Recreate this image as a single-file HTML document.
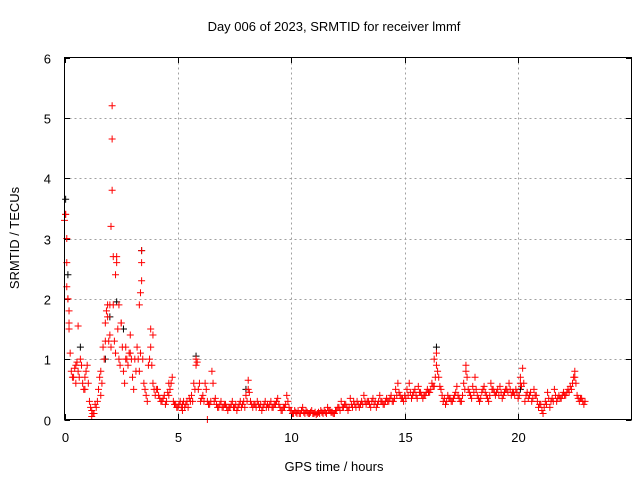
<!DOCTYPE html>
<html><head><meta charset="utf-8"><style>
body{margin:0;background:#fff}
svg{display:block;font-family:"Liberation Sans",sans-serif;font-size:13px}
</style></head><body>
<svg id="chart" width="640" height="480">
<rect width="640" height="480" fill="#fff"/>
<text x="334" y="31" text-anchor="middle">Day 006 of 2023, SRMTID for receiver lmmf</text>
<text x="334" y="471" text-anchor="middle">GPS time / hours</text>
<text transform="translate(19,238) rotate(-90)" text-anchor="middle">SRMTID / TECUs</text>
<g id="grid"></g><g id="ticks"></g><g id="pts"></g>
<rect x="64.5" y="57.5" width="567" height="362" fill="none" stroke="#000"/>
</svg>
<script>
const xTicks=[0,5,10,15,20];
const yTicks=[0,1,2,3,4,5,6];
const vals=[
3.3,2.2,1.6,0.8,0.7,0.9,0.8,1.0,0.6,0.7,
0.9,0.3,0.15,0.1,0.2,0.5,0.8,1.2,1.6,1.9,
1.4,5.2,1.3,2.6,1.0,1.6,0.8,1.2,0.9,1.4,
0.7,1.0,1.2,0.8,2.8,0.6,0.4,0.9,1.5,0.6,
0.4,0.5,0.35,0.3,0.4,0.3,0.4,0.6,0.3,0.25,
0.2,0.3,0.25,0.2,0.3,0.35,0.4,0.6,1.0,0.5,
0.3,0.4,0.6,0.3,0.25,0.8,0.3,0.25,0.2,0.3,
0.2,0.25,0.15,0.2,0.3,0.2,0.15,0.25,0.2,0.3,
0.4,0.65,0.3,0.2,0.25,0.3,0.2,0.15,0.25,0.2,
0.2,0.3,0.2,0.25,0.35,0.2,0.15,0.2,0.4,0.2,
0.15,0.1,0.12,0.15,0.1,0.2,0.1,0.12,0.1,0.15,
0.1,0.08,0.12,0.15,0.1,0.12,0.2,0.15,0.12,0.1,
0.15,0.2,0.3,0.2,0.25,0.15,0.35,0.2,0.25,0.3,
0.2,0.3,0.4,0.25,0.3,0.2,0.35,0.3,0.25,0.4,
0.3,0.25,0.35,0.3,0.4,0.3,0.5,0.6,0.4,0.35,
0.4,0.5,0.6,0.35,0.45,0.4,0.55,0.45,0.35,0.4,
0.5,0.45,0.6,0.55,1.1,0.7,0.5,0.3,0.25,0.4,
0.35,0.3,0.4,0.55,0.35,0.3,0.6,0.9,0.5,0.4,
0.55,0.7,0.4,0.3,0.45,0.55,0.4,0.3,0.6,0.5,
0.4,0.5,0.55,0.35,0.45,0.5,0.6,0.4,0.45,0.5,
0.35,0.7,0.85,0.3,0.45,0.4,0.3,0.5,0.4,0.2,
0.25,0.1,0.3,0.45,0.2,0.35,0.5,0.3,0.4,0.35,
0.45,0.4,0.5,0.55,0.6,0.8,0.4,0.3,0.35,0.25];
const vals2=[
3.4,2.0,1.1,0.7,0.85,0.95,0.7,0.9,0.5,0.8,
0.6,0.2,0.1,0.25,0.3,0.7,0.6,1.0,1.8,1.3,
1.2,1.9,1.1,1.5,0.9,1.2,0.6,1.0,1.1,1.0,
0.5,0.8,1.0,1.1,1.0,0.5,0.3,1.0,0.9,0.5,
0.5,0.4,0.3,0.35,0.25,0.45,0.5,0.7,0.25,0.2,
0.25,0.2,0.3,0.25,0.2,0.3,0.3,0.5,0.95,0.6,
0.35,0.3,0.5,0.25,0.3,0.6,0.35,0.2,0.25,0.2,
0.25,0.2,0.2,0.25,0.2,0.25,0.2,0.3,0.25,0.2,
0.3,0.45,0.25,0.25,0.2,0.25,0.25,0.2,0.3,0.25,
0.25,0.2,0.25,0.3,0.25,0.15,0.2,0.25,0.3,0.15,
0.1,0.15,0.1,0.1,0.15,0.12,0.15,0.1,0.12,0.1,
0.12,0.1,0.1,0.12,0.15,0.1,0.15,0.12,0.1,0.15,
0.2,0.15,0.2,0.25,0.2,0.2,0.25,0.3,0.2,0.25,
0.25,0.25,0.3,0.3,0.25,0.3,0.25,0.2,0.3,0.3,
0.25,0.3,0.3,0.35,0.3,0.35,0.4,0.45,0.35,0.3,
0.35,0.4,0.45,0.4,0.5,0.35,0.45,0.4,0.4,0.45,
0.45,0.5,0.55,0.7,0.8,0.55,0.4,0.35,0.3,0.35,
0.3,0.35,0.45,0.4,0.3,0.4,0.5,0.7,0.45,0.35,
0.45,0.5,0.35,0.35,0.5,0.45,0.35,0.4,0.5,0.45,
0.45,0.4,0.45,0.4,0.5,0.45,0.5,0.45,0.4,0.45,
0.4,0.55,0.6,0.4,0.35,0.45,0.35,0.4,0.3,0.25,
0.15,0.2,0.25,0.35,0.3,0.3,0.4,0.35,0.35,0.4,
0.4,0.45,0.45,0.5,0.7,0.6,0.35,0.35,0.3,0.3];
const extraRed=[[2.1,4.65],[2.1,3.8],[2.05,3.2],[2.15,2.7],[2.3,2.7],[2.25,2.4],[3.4,2.6],[3.4,2.3],[3.35,2.1],[3.3,1.9],[0.05,3.4],[0.1,3.0],[0.1,2.6],[0.15,2.0],[0.2,1.8],[0.2,1.5],[3.9,1.4],[3.8,1.2],[2.5,1.6],[1.9,1.7],[1.8,1.3],[0.6,1.55],[5.8,0.9],[16.4,0.9],[16.3,1.0],[22.5,0.7],[6.3,0.0],[1.2,0.05],[8.1,0.5],[17.7,0.8],[20.1,0.6],[2.4,1.9],[2.0,1.9],[2.7,1.0],[2.9,1.1],[0.5,0.6],[0.9,0.5],[1.6,0.4],[4.6,0.6],[5.2,0.15]];
const extraBlack=[[0.05,3.65],[0.15,2.4],[2.3,1.95],[2.6,1.5],[3.4,2.8],[1.8,1.0],[5.8,1.05],[0.7,1.2],[2.0,1.7],[8.0,0.5],[16.4,1.2],[20.1,0.5]];
const X=t=>64.5+t*(567/25), Y=v=>419.5-v*(362/6);
const NS="http://www.w3.org/2000/svg";
function mk(tag,attrs,parent){const e=document.createElementNS(NS,tag);for(const k in attrs)e.setAttribute(k,attrs[k]);parent.appendChild(e);return e;}
const grid=document.getElementById('grid'),ticks=document.getElementById('ticks'),pts=document.getElementById('pts');
xTicks.forEach(t=>{const x=Math.round(X(t))+0.5;
 if(t>0){const g=mk('line',{x1:x,x2:x,y1:57.5,y2:419.5,stroke:'#a0a0a0','stroke-dasharray':'2,3'},grid);
 
 }
 const tx=mk('text',{x:x,y:442,'text-anchor':'middle'},ticks);tx.textContent=t;
 
 
 mk('line',{x1:x,x2:x,y1:419.5,y2:414,stroke:'#000'},ticks);mk('line',{x1:x,x2:x,y1:57.5,y2:63,stroke:'#000'},ticks);});
yTicks.forEach(v=>{const y=Math.round(Y(v))+0.5;
 if(v>0&&v<6){const g=mk('line',{x1:64.5,x2:631.5,y1:y,y2:y,stroke:'#a0a0a0','stroke-dasharray':'2,3'},grid);
 
 }
 const tx=mk('text',{x:51,y:y+5,'text-anchor':'end'},ticks);tx.textContent=v;
 
 
 mk('line',{x1:64.5,x2:70,y1:y,y2:y,stroke:'#000'},ticks);mk('line',{x1:631.5,x2:626,y1:y,y2:y,stroke:'#000'},ticks);});
function plus(t,v,c){const x=X(t),y=Y(v);
 const p=mk('path',{d:`M${x-3.5},${y}H${x+3.5}M${x},${y-3.5}V${y+3.5}`,stroke:c,'stroke-width':1,fill:'none'},pts);
 
 }
extraBlack.forEach(d=>plus(d[0],d[1],'#000'));
vals.forEach((v,i)=>plus(i*0.1,v,'#f00'));
vals2.forEach((v,i)=>plus(i*0.1+0.05,v,'#f00'));
extraRed.forEach(d=>plus(d[0],d[1],'#f00'));
</script>
</body></html>
